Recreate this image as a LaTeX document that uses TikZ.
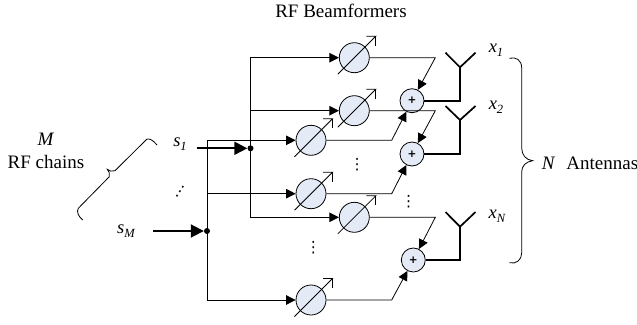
\documentclass[tikz,border=0pt]{standalone}
\usepackage{fontspec}
\setmainfont{Liberation Serif}
\newfontfamily\dotsfont{DejaVu Sans}
\usepackage{tikz}
\usetikzlibrary{arrows.meta,calc}
\definecolor{shifterfill}{RGB}{228, 235, 246}
\newcommand{\subtext}[1]{\raisebox{-0.22em}{\fontsize{12.5}{13}\selectfont\itshape #1}}
\tikzset{
    shifter/.style={draw, circle, fill=shifterfill, minimum size=30pt, inner sep=0pt, line width=0.8pt},
    adder/.style={draw, circle, fill=shifterfill, minimum size=24pt, inner sep=0pt, line width=0.8pt, font=\dotsfont\bfseries\fontsize{10.5}{11}\selectfont},
    feed/.style={-{Triangle[length=9.5pt,width=9.5pt]}, line width=0.8pt},
    input/.style={-{Triangle[length=13pt,width=13pt]}, line width=1.9pt},
    junction/.style={circle, fill=black, minimum size=6pt, inner sep=0pt},
    bus/.style={line width=0.8pt},
    mast/.style={line width=1.7pt},
    label/.style={font=\fontsize{19}{23}\selectfont, align=center, inner sep=0pt},
    sym/.style={font=\fontsize{18.5}{20}\selectfont\itshape, inner sep=0pt},
    dotsnode/.style={font=\dotsfont\fontsize{15.5}{16}\selectfont, inner sep=0pt}
}
\begin{document}
\begin{tikzpicture}[x=1pt, y=-1pt]
    \useasboundingbox (0,0) rectangle (637,324);

    \node [label] (title) at (341,11) {RF Beamformers};
    \node [label] (chains) at (46,151) {\textit{M}\\RF chains};
    \node [label] (antennas) at (590,163) {\textit{N}\hspace{11pt}Antennas};

    % phase shifters
    \node [shifter] (ps1) at (354.3,57.7) {};
    \node [shifter] (ps2) at (354.3,110.7) {};
    \node [shifter] (ps3) at (311,140.3) {};
    \node [shifter] (ps4) at (311,193.7) {};
    \node [shifter] (ps5) at (354.3,217.3) {};
    \node [shifter] (ps6) at (311,300) {};

    % adders
    \node [adder] (add1) at (412,100.7) {+};
    \node [adder] (add2) at (412,154) {+};
    \node [adder] (add3) at (413.3,260) {+};

    % inputs
    \node [sym] (s1) at (180,144) {s\subtext{1}};
    \node [sym] (sm) at (126,231) {s\subtext{M}};
    \node [junction] (dot1) at (250.5,148.3) {};
    \node [junction] (dot2) at (207,231) {};
    \coordinate (s1out) at (196.7,148.3);
    \coordinate (smout) at (153,231);
    \draw [input] (s1out) -- (dot1);
    \draw [input] (smout) -- (dot2);
    \node [dotsnode, rotate=-33] (ddots) at (180,191.5) {⋮};

    % bus lines
    \draw [feed] (dot1.center) |- (ps1);
    \draw [feed] (dot1.center) |- (ps2);
    \draw [feed] (dot1.center) |- (ps5);
    \draw [feed] (dot2.center) |- (ps3);
    \draw [feed] (dot2.center) |- (ps4);
    \draw [feed] (dot2.center) |- (ps6);

    % outputs
    \coordinate (bend1) at (435.3,57.7);
    \coordinate (bend2) at (435.3,110.7);
    \coordinate (bend3) at (391.7,140.3);
    \coordinate (bend4) at (391.7,193.7);
    \coordinate (bend5) at (435.3,217.3);
    \coordinate (bend6) at (391.7,300);
    \draw [feed] (ps1) -- (bend1) -- (add1);
    \draw [feed] (ps2) -- (bend2) -- (add2);
    \draw [feed] (ps3) -- (bend3) -- (add1);
    \draw [feed] (ps4) -- (bend4) -- (add2);
    \draw [feed] (ps5) -- (bend5) -- (add3);
    \draw [feed] (ps6) -- (bend6) -- (add3);

    % arrows through the shifters
    \foreach \ps in {ps1,ps2,ps3,ps4,ps5,ps6} {
        \draw [bus] ($(\ps)+(-16.5,16.5)$) -- ++(38,-38) -- ++(-9.5,0);
        \draw [bus] ($(\ps)+(21.5,-21.5)$) -- ++(0,9.5);
    }

    % antennas
    \foreach \n/\x/\yj/\yt in {1/460/67.3/52.7, 2/460/120/106, 3/460/226.7/212} {
        \coordinate (feed\n) at (\x,\yj);
        \coordinate (armL\n) at (\x-14.5,\yt);
        \coordinate (armR\n) at (\x+15.5,\yt);
        \draw [mast] (add\n) -| (feed\n);
        \draw [mast] (armL\n) -- (feed\n) -- (armR\n);
    }

    \node [sym] (x1) at (496,50) {x\subtext{1}};
    \node [sym] (x2) at (496,107.5) {x\subtext{2}};
    \node [sym] (xn) at (497,216) {x\subtext{N}};

    \node [dotsnode] (vd1) at (357,164.7) {⋮};
    \node [dotsnode] (vd2) at (408.5,202) {⋮};
    \node [dotsnode] (vd3) at (313.4,247.3) {⋮};

    % braces
    \draw [bus] (157,145) .. controls (153,140) and (149,138) .. (146.7,139.3)
        -- (115,170.7) .. controls (112,172) and (109,171) .. (107.3,169.3)
        .. controls (109,171) and (110,174) .. (109.3,176.7)
        -- (78.3,208.3) .. controls (76,212) and (79,217) .. (82.7,220);
    \draw [bus] (509.3,58.3) .. controls (516,56.5) and (521.7,60) .. (521.7,68)
        -- (521.7,148) .. controls (521.7,155) and (526,160) .. (532.7,160.7)
        .. controls (526,161.5) and (521.7,166) .. (521.7,171.7)
        -- (521.7,253) .. controls (521.7,260) and (516,264.5) .. (509.3,262.7);
\end{tikzpicture}
\end{document}
